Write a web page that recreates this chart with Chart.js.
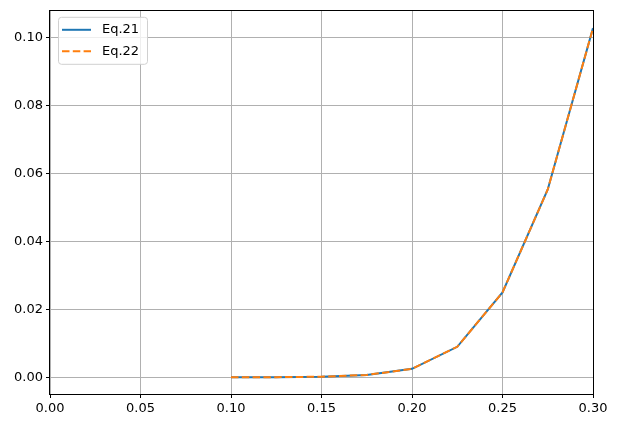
<!DOCTYPE html>
<html>
<head>
<meta charset="utf-8">
<script src="https://cdn.jsdelivr.net/npm/chart.js@4.4.1/dist/chart.umd.min.js"></script>
<style>
  html, body { margin: 0; padding: 0; background: #fff; }
  #wrap { width: 618px; height: 428px; }
</style>
</head>
<body>
<div id="wrap"><canvas id="chart" width="618" height="428"></canvas></div>
<script>
// values
const xValues = [0.1, 0.125, 0.15, 0.175, 0.2, 0.225, 0.25, 0.275, 0.3];
const eq21 = [0.00001, 0.00005, 0.0002, 0.0007, 0.0025, 0.009, 0.025, 0.0553, 0.1028];
const eq22 = [0.00001, 0.00005, 0.0002, 0.0007, 0.0025, 0.009, 0.025, 0.0553, 0.1028];
const seriesNames = ['Eq.21', 'Eq.22'];
const xTicks = [0, 0.05, 0.1, 0.15, 0.2, 0.25, 0.3];
const yTicks = [0, 0.02, 0.04, 0.06, 0.08, 0.1];

const FONT = 'DejaVu Sans';

// matplotlib-ish frame around the axes
const frame = {
    id: 'frame',
    afterDatasetsDraw(chart) {
        const a = chart.chartArea, ctx = chart.ctx;
        ctx.save();
        ctx.strokeStyle = '#000';
        ctx.lineWidth = 1;
        ctx.strokeRect(Math.round(a.left) - 0.5, Math.round(a.top) - 0.5,
            Math.round(a.right - a.left) + 1, Math.round(a.bottom - a.top) + 1);
        ctx.restore();
    }
};

// legend box in the upper left corner
const boxLegend = {
    id: 'boxLegend',
    afterDraw(chart) {
        const ctx = chart.ctx;
        const a = chart.chartArea;
        const x = a.left + 8, y = a.top + 6, w = 89, h = 47;
        ctx.save();
        ctx.fillStyle = 'rgba(255,255,255,0.8)';
        ctx.strokeStyle = '#d0d0d0';
        ctx.lineWidth = 1;
        ctx.beginPath();
        ctx.roundRect(x + 0.5, y + 0.5, w, h, 3);
        ctx.fill();
        ctx.stroke();
        chart.data.datasets.forEach((ds, i) => {
            const ly = y + 13 + i * 21.5;
            ctx.strokeStyle = ds.borderColor;
            ctx.lineWidth = 2;
            ctx.setLineDash(ds.borderDash || []);
            ctx.beginPath();
            ctx.moveTo(x + 4, ly);
            ctx.lineTo(x + 33, ly);
            ctx.stroke();
            ctx.setLineDash([]);
            ctx.fillStyle = '#000';
            ctx.font = '13px "' + FONT + '"';
            ctx.textBaseline = 'middle';
            ctx.fillText(ds.label, x + 44, ly);
        });
        ctx.restore();
    }
};

new Chart(document.getElementById('chart'), {
    type: 'line',
    data: {
        datasets: [
            {
                label: seriesNames[0],
                data: xValues.map((x, i) => ({ x: x, y: eq21[i] })),
                borderColor: '#1f77b4',
                borderWidth: 2,
                pointRadius: 0,
                tension: 0,
                order: 1
            },
            {
                label: seriesNames[1],
                data: xValues.map((x, i) => ({ x: x, y: eq22[i] })),
                borderColor: '#ff7f0e',
                borderWidth: 2,
                borderDash: [7.5, 3.3],
                pointRadius: 0,
                tension: 0,
                order: 0
            }
        ]
    },
    options: {
        responsive: false,
        animation: false,
        devicePixelRatio: 1,
        layout: { padding: { left: 0, top: 9, right: 25, bottom: 0 } },
        plugins: {
            legend: { display: false },
            tooltip: { enabled: false }
        },
        scales: {
            x: {
                type: 'linear',
                min: 0,
                max: 0.3,
                afterBuildTicks(scale) { scale.ticks = xTicks.map(v => ({ value: v })); },
                afterFit(scale) { scale.height = 34; },
                grid: { color: '#b0b0b0', lineWidth: 1, tickColor: '#000', tickLength: 4 },
                border: { display: false },
                ticks: {
                    color: '#000',
                    padding: 3,
                    maxRotation: 0,
                    font: { family: FONT, size: 13 },
                    callback: v => v.toFixed(2)
                }
            },
            y: {
                type: 'linear',
                min: -0.0049,
                max: 0.1079,
                afterBuildTicks(scale) { scale.ticks = yTicks.map(v => ({ value: v })); },
                afterFit(scale) { scale.width = 50; },
                grid: { color: '#b0b0b0', lineWidth: 1, tickColor: '#000', tickLength: 4 },
                border: { display: false },
                ticks: {
                    color: '#000',
                    padding: 3,
                    font: { family: FONT, size: 13 },
                    callback: v => v.toFixed(2)
                }
            }
        }
    },
    plugins: [frame, boxLegend]
});
</script>
</body>
</html>
